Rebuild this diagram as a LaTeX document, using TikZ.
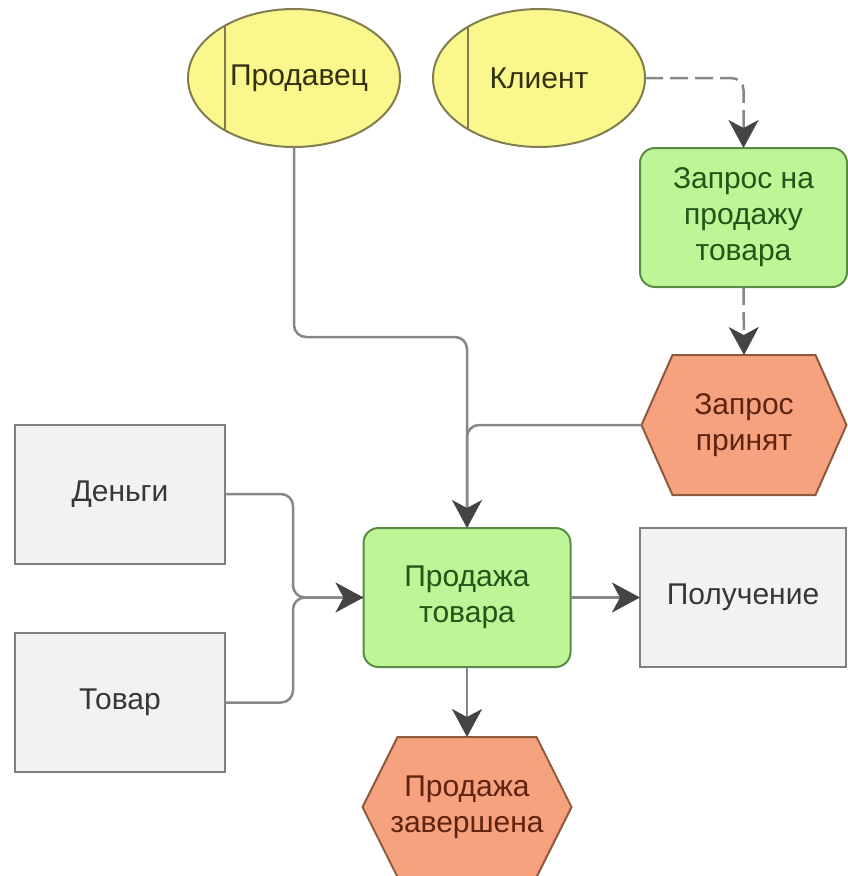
\documentclass[tikz,border=0pt]{standalone}
\usepackage{fontspec}
\setmainfont{Liberation Sans}
\usetikzlibrary{shapes.geometric,arrows.meta,backgrounds}

\definecolor{ellfill}{RGB}{250,247,140}
\definecolor{ellbd}{RGB}{130,125,80}
\definecolor{elltxt}{RGB}{50,50,15}
\definecolor{grnfill}{RGB}{190,245,150}
\definecolor{grnbd}{RGB}{90,140,70}
\definecolor{grntxt}{RGB}{35,85,25}
\definecolor{hexfill}{RGB}{247,162,127}
\definecolor{hexbd}{RGB}{140,90,60}
\definecolor{hextxt}{RGB}{95,35,15}
\definecolor{gfill}{RGB}{242,242,242}
\definecolor{gbd}{RGB}{128,128,128}
\definecolor{gtxt}{RGB}{55,55,55}
\definecolor{lineg}{RGB}{135,135,135}
\definecolor{tipc}{RGB}{68,68,68}

% hexagonal event outline drawn behind a rectangular node
\newcommand{\hexoutline}[2]{%
  \begin{pgfonlayer}{background}
    \draw[hexshape] (#1.west) -- ([xshift=#2]#1.north west) -- ([xshift=-#2]#1.north east)
      -- (#1.east) -- ([xshift=-#2]#1.south east) -- ([xshift=#2]#1.south west) -- cycle;
  \end{pgfonlayer}}

\begin{document}
\begin{tikzpicture}[x=1pt,y=-1pt,
  font=\fontsize{30}{36}\selectfont,
  base/.style={line width=2pt, inner sep=0pt, outer sep=0pt, align=center},
  actor/.style={base, ellipse, draw=ellbd, fill=ellfill, text=elltxt,
    minimum width=212pt, minimum height=138pt},
  func/.style={base, rectangle, rounded corners=15pt, draw=grnbd, fill=grnfill,
    text=grntxt, minimum width=207pt, minimum height=139pt},
  event/.style={base, rectangle, text=hextxt, minimum width=205pt, minimum height=140pt},
  hexshape/.style={line width=2pt, line join=miter, draw=hexbd, fill=hexfill},
  obj/.style={base, rectangle, draw=gbd, fill=gfill, text=gtxt,
    minimum width=210pt, minimum height=139pt},
  conn/.style={draw=lineg, line width=2.5pt, rounded corners=12pt},
  tipped/.style={-{Stealth[length=28pt,width=30pt,inset=8pt,color=tipc]}},
  flowdash/.style={dash pattern=on 18pt off 7pt},
]
\useasboundingbox (0,0) rectangle (848,876);

% organisational units
\node[actor] (prod) at (294,78) {\hspace*{10pt}Продавец};
\node[actor] (kl)   at (539,78) {Клиент};
\draw[ellbd, line width=2pt] (prod.143) -- (prod.217);
\draw[ellbd, line width=2pt] (kl.144) -- (kl.216);

% functions, events, objects
\node[func]  (zap)  at (743.5,217.5) {Запрос на\\продажу\\товара};
\node[event] (zp)   at (744,425)     {Запрос\\принят};
\hexoutline{zp}{31pt}
\node[obj]   (den)  at (120,494)     {Деньги};
\node[obj]   (tov)  at (120,702.5)   {Товар};
\node[func]  (sale) at (467,597.5)   {Продажа\\товара};
\node[obj, minimum width=206pt] (pol) at (743,597.5) {Получение};
\node[event, minimum width=209pt] (zav) at (467,807) {Продажа\\завершена};
\hexoutline{zav}{35pt}

\coordinate (jn) at (293,597.5);

% connectors
\draw[conn, flowdash, tipped] (kl.east) -| (zap.north);
\draw[conn, flowdash, tipped] (zap.south) -- (zp.north);
\draw[conn] (zp.west) -| (sale.north);
\draw[conn, tipped] (prod.south) |- (sale.north |- 0,337) -- (sale.north);
\draw[conn] (den.east) -| (jn) -- (sale.west);
\draw[conn, tipped] (tov.east) -| (jn) -- (sale.west);
\draw[conn, tipped] (sale.east) -- (pol.west);
\draw[conn, tipped] (sale.south) -- (zav.north);
\end{tikzpicture}
\end{document}
